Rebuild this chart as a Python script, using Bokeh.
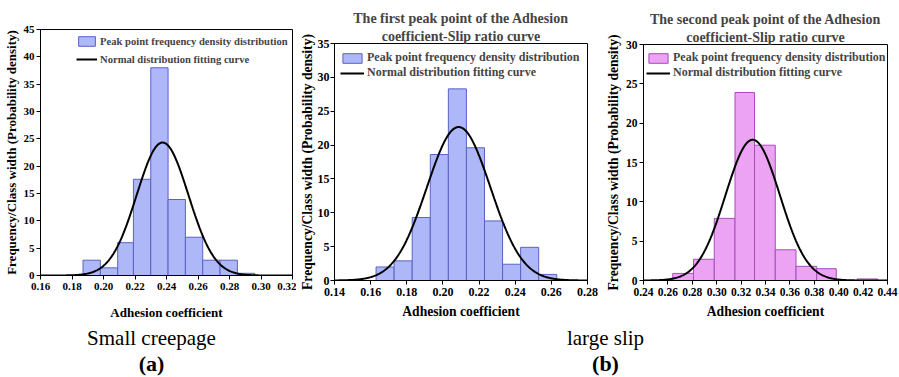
import numpy as np
from bokeh.plotting import figure
from bokeh.models import (Range1d, FixedTicker, NumeralTickFormatter, Legend,
                          LegendItem, Title, Label)
from bokeh.layouts import row, column
from bokeh.embed import file_html
from bokeh.resources import INLINE

FONT = "Liberation Serif"

# ---------------- data ----------------
x_label = "Adhesion coefficient"
y_label = "Frequency/Class width (Probability density)"
legend_bar = "Peak point frequency density distribution"
legend_fit = "Normal distribution fitting curve"

# (a) small creepage
a_edges = [0.187, 0.198, 0.209, 0.219, 0.230, 0.241, 0.252, 0.263, 0.274, 0.285, 0.296]
a_density = [2.8, 1.4, 6.0, 17.6, 38.0, 13.9, 7.0, 2.8, 2.8, 0.4]
a_mu, a_sigma = 0.2375, 0.0164          # fitted normal distribution
a_xticks = [0.16, 0.18, 0.20, 0.22, 0.24, 0.26, 0.28, 0.30, 0.32]
a_yticks = [0, 5, 10, 15, 20, 25, 30, 35, 40, 45]

# (b) large slip, first peak
b_title = ["The first peak point of the Adhesion", "coefficient-Slip ratio curve"]
b_edges = [0.163, 0.173, 0.183, 0.193, 0.203, 0.213, 0.223, 0.233, 0.243, 0.253, 0.263]
b_density = [2.0, 2.9, 9.3, 18.6, 28.3, 19.6, 8.8, 2.4, 4.9, 0.9]
b_mu, b_sigma = 0.2087, 0.0176
b_xticks = [0.14, 0.16, 0.18, 0.20, 0.22, 0.24, 0.26, 0.28]
b_yticks = [0, 5, 10, 15, 20, 25, 30, 35]

# (b) large slip, second peak
c_title = ["The second peak point of the Adhesion", "coefficient-Slip ratio curve"]
c_edges = [0.264, 0.281, 0.298, 0.315, 0.331, 0.348, 0.365, 0.382, 0.398, 0.415, 0.432]
c_density = [0.9, 2.7, 7.9, 23.9, 17.2, 3.9, 1.8, 1.5, 0.0, 0.2]
c_mu, c_sigma = 0.3295, 0.0223
c_xticks = [0.24, 0.26, 0.28, 0.30, 0.32, 0.34, 0.36, 0.38, 0.40, 0.42, 0.44]
c_yticks = [0, 5, 10, 15, 20, 25, 30]

captions = ["Small creepage", "large slip"]
panel_tags = ["(a)", "(b)"]


def normal_pdf(xs, mu, sigma):
    return np.exp(-0.5 * ((xs - mu) / sigma) ** 2) / (sigma * np.sqrt(2 * np.pi))


def make_panel(edges, density, mu, sigma, xticks, yticks, fill, outline,
               width, height, borders, tick_size, label_size, legend_size,
               legend_loc, spacing, glyph_w, title=None, x_std=10, y_std=(2, 2)):
    left_b, right_b, top_b, bottom_b = borders
    p = figure(width=width, height=height, output_backend="svg",
               toolbar_location=None, title=None,
               x_range=Range1d(xticks[0], xticks[-1]),
               y_range=Range1d(yticks[0], yticks[-1]),
               min_border_left=left_b, min_border_right=right_b,
               min_border_top=top_b, min_border_bottom=bottom_b)
    p.frame_align = False
    p.grid.visible = False
    p.background_fill_color = "white"
    p.border_fill_color = "white"
    p.outline_line_color = "black"
    p.outline_line_width = 1

    r_bar = p.quad(left=edges[:-1], right=edges[1:], top=density, bottom=0,
                   fill_color=fill, line_color=outline, line_width=1)
    xs = np.linspace(xticks[0], xticks[-1], 400)
    r_line = p.line(xs, normal_pdf(xs, mu, sigma), line_color="black", line_width=2)

    for ax in (p.xaxis[0], p.yaxis[0]):
        ax.axis_line_color = "black"
        ax.major_tick_line_color = "black"
        ax.minor_tick_line_color = None
        ax.major_tick_out = 4
        ax.major_tick_in = 0
        ax.major_label_text_font = FONT
        ax.major_label_text_font_style = "bold"
        ax.major_label_text_font_size = tick_size
        ax.major_label_text_color = "black"
        ax.axis_label_text_font = FONT
        ax.axis_label_text_font_style = "bold"
        ax.axis_label_text_font_size = label_size
        ax.axis_label_text_color = "black"
    p.xaxis.ticker = FixedTicker(ticks=xticks)
    p.yaxis.ticker = FixedTicker(ticks=yticks)
    p.xaxis.formatter = NumeralTickFormatter(format="0.00")
    p.xaxis.axis_label = x_label
    p.yaxis.axis_label = y_label
    p.xaxis.major_label_standoff = 3
    p.xaxis.axis_label_standoff = x_std
    p.yaxis.major_label_standoff = y_std[0]
    p.yaxis.axis_label_standoff = y_std[1]

    legend = Legend(items=[LegendItem(label=legend_bar, renderers=[r_bar]),
                           LegendItem(label=legend_fit, renderers=[r_line])],
                    location=legend_loc, padding=0, margin=0,
                    spacing=spacing, glyph_width=glyph_w, glyph_height=12,
                    label_height=12, label_standoff=3,
                    label_text_font=FONT, label_text_font_style="bold",
                    label_text_font_size=legend_size,
                    border_line_color=None, background_fill_alpha=0)
    p.add_layout(legend)

    if title is not None:
        for i, line in enumerate(reversed(title)):
            p.add_layout(Title(text=line, align="center", text_font=FONT,
                               text_font_style="bold", text_font_size="14px",
                               standoff=0 if i == 0 else 1), "above")
    return p


pa = make_panel(a_edges, a_density, a_mu, a_sigma, a_xticks, a_yticks,
                "#aeb7f8", "#5a63c4", 296, 322, (39, 4, 29, 47),
                "11px", "13px", "10.6px", (36, 210), 6, 21, x_std=12)
pb = make_panel(b_edges, b_density, b_mu, b_sigma, b_xticks, b_yticks,
                "#aeb7f8", "#5a63c4", 304, 322, (36, 13, 43, 42),
                "12px", "13.6px", "12px", (6, 200), -1, 24, title=b_title,
                x_std=5, y_std=(1, 0))
pc = make_panel(c_edges, c_density, c_mu, c_sigma, c_xticks, c_yticks,
                "#eda3f4", "#a84cbc", 299, 322, (43, 12, 44, 42),
                "11.5px", "13.6px", "12px", (3, 200), -1, 24, title=c_title, x_std=5)

cap = figure(width=899, height=55, output_backend="svg", toolbar_location=None,
             x_axis_type=None, y_axis_type=None, title=None,
             x_range=Range1d(0, 1), y_range=Range1d(0, 1),
             min_border=0)
cap.frame_align = False
cap.grid.visible = False
cap.outline_line_color = None
cap.background_fill_color = "white"
cap.border_fill_color = "white"
cap_x = [151, 605]
for cx, txt, tag in zip(cap_x, captions, panel_tags):
    cap.add_layout(Label(x=cx, y=40, x_units="screen", y_units="screen", text=txt,
                         text_font=FONT, text_font_size="21px", text_align="center",
                         text_baseline="middle", text_color="black"))
    cap.add_layout(Label(x=cx, y=14, x_units="screen", y_units="screen", text=tag,
                         text_font=FONT, text_font_style="bold", text_font_size="22px",
                         text_align="center", text_baseline="middle",
                         text_color="black"))

layout = column(row(pa, pb, pc, spacing=0), cap, spacing=0)
open("out.html", "w").write(file_html(layout, INLINE))
